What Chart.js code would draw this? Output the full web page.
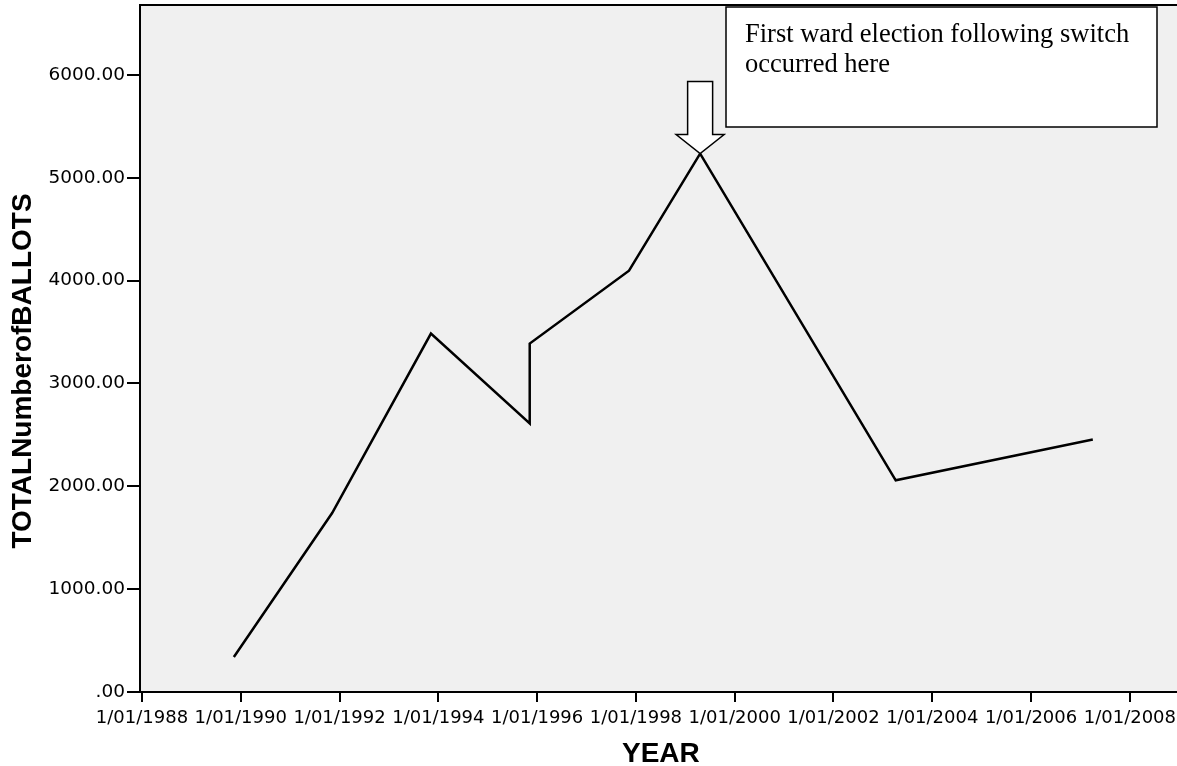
<!DOCTYPE html>
<html>
<head>
<meta charset="utf-8">
<script src="https://cdn.jsdelivr.net/npm/chart.js@4/dist/chart.umd.min.js"></script>
<style>
  html, body { margin: 0; padding: 0; background: #ffffff; overflow: hidden; }
  #wrap { width: 1177px; height: 766px; overflow: hidden; }
</style>
</head>
<body>
<div id="wrap"><canvas id="ballotsChart" width="1182" height="766"></canvas></div>
<script>
// election dates as decimal years
const electionYears = [1989.86, 1991.85, 1993.85, 1995.85, 1995.85, 1997.86, 1999.30, 2003.26, 2007.25];
const totalBallots = [340, 1740, 3485, 2612, 3388, 4097, 5235, 2058, 2456];

const xTickYears = [1988, 1990, 1992, 1994, 1996, 1998, 2000, 2002, 2004, 2006, 2008];
const yTickValues = [0, 1000, 2000, 3000, 4000, 5000, 6000];

const yTitle = 'TOTALNumberofBALLOTS';
const noteLines = ['First ward election following switch', 'occurred here'];

const points = electionYears.map((yr, i) => ({ x: yr, y: totalBallots[i] }));
const peakIndex = totalBallots.indexOf(Math.max(...totalBallots));

const plotFrame = {
    id: 'plotFrame',
    beforeDraw(chart) {
        const { ctx, chartArea } = chart;
        ctx.save();
        ctx.fillStyle = '#f0f0f0';
        ctx.fillRect(chartArea.left, chartArea.top, chartArea.right - chartArea.left, chartArea.bottom - chartArea.top);
        ctx.strokeStyle = '#000000';
        ctx.lineWidth = 2;
        ctx.beginPath();
        ctx.moveTo(chartArea.left, chartArea.top);
        ctx.lineTo(chartArea.right, chartArea.top);
        ctx.stroke();

        // y axis title, sits a bit below the middle of the plot like the original
        ctx.fillStyle = '#000000';
        ctx.font = 'bold 28px "Liberation Sans", Arial, sans-serif';
        ctx.textAlign = 'center';
        ctx.textBaseline = 'middle';
        ctx.translate(23, 371);
        ctx.rotate(-Math.PI / 2);
        ctx.fillText(yTitle, 0, 0);
        ctx.restore();
    }
};

const noteBox = {
    id: 'noteBox',
    afterDatasetsDraw(chart) {
        const { ctx, scales } = chart;
        const tx = scales.x.getPixelForValue(electionYears[peakIndex]);
        const ty = scales.y.getPixelForValue(totalBallots[peakIndex]);

        ctx.save();
        ctx.lineWidth = 1.5;
        ctx.strokeStyle = '#000000';
        ctx.fillStyle = '#ffffff';

        // down arrow pointing at the peak
        ctx.beginPath();
        ctx.moveTo(tx - 12.5, ty - 72);
        ctx.lineTo(tx + 12.5, ty - 72);
        ctx.lineTo(tx + 12.5, ty - 19);
        ctx.lineTo(tx + 24, ty - 19);
        ctx.lineTo(tx, ty);
        ctx.lineTo(tx - 24, ty - 19);
        ctx.lineTo(tx - 12.5, ty - 19);
        ctx.closePath();
        ctx.fill();
        ctx.stroke();

        // text box
        ctx.fillRect(726, 7, 431, 120);
        ctx.strokeRect(726, 7, 431, 120);
        ctx.fillStyle = '#000000';
        ctx.font = '26.5px "Liberation Serif", "Times New Roman", serif';
        ctx.textAlign = 'left';
        ctx.textBaseline = 'alphabetic';
        noteLines.forEach((line, i) => ctx.fillText(line, 745, 42 + i * 30));
        ctx.restore();
    }
};

const ctx = document.getElementById('ballotsChart').getContext('2d');
new Chart(ctx, {
    type: 'line',
    data: {
        datasets: [{
            data: points,
            borderColor: '#000000',
            borderWidth: 2.5,
            pointRadius: 0,
            pointHoverRadius: 0,
            tension: 0,
            fill: false
        }]
    },
    options: {
        responsive: false,
        animation: false,
        layout: { padding: { top: 5, left: 0, right: 0, bottom: 0 } },
        plugins: {
            legend: { display: false },
            tooltip: { enabled: false }
        },
        scales: {
            x: {
                type: 'linear',
                min: 1987.96,
                max: 2009.05,
                afterBuildTicks: (scale) => { scale.ticks = xTickYears.map(v => ({ value: v })); },
                afterFit: (scale) => { scale.height = 74; },
                border: { display: true, color: '#000000', width: 2 },
                grid: { drawOnChartArea: false, drawTicks: true, tickLength: 10, tickColor: '#000000', lineWidth: 2 },
                ticks: {
                    color: '#000000',
                    padding: 6,
                    maxRotation: 0,
                    autoSkip: false,
                    font: { family: '"DejaVu Sans", sans-serif', size: 18 },
                    callback: (v) => '1/01/' + v
                },
                title: {
                    display: true,
                    text: 'YEAR',
                    color: '#000000',
                    padding: { top: 0, bottom: -2 },
                    font: { family: '"Liberation Sans", Arial, sans-serif', size: 28, weight: 'bold', lineHeight: 1 }
                }
            },
            y: {
                min: 0,
                max: 6680,
                afterBuildTicks: (scale) => { scale.ticks = yTickValues.map(v => ({ value: v })); },
                afterFit: (scale) => {
                    scale.width = 140;
                    scale.paddingTop = 0;
                    scale.paddingBottom = 0;
                },
                border: { display: true, color: '#000000', width: 2 },
                grid: { drawOnChartArea: false, drawTicks: true, tickLength: 13, tickColor: '#000000', lineWidth: 2 },
                ticks: {
                    color: '#000000',
                    padding: 2,
                    font: { family: '"DejaVu Sans", sans-serif', size: 18.5 },
                    callback: (v) => v === 0 ? '.00' : v.toFixed(2)
                },
                title: { display: false }
            }
        }
    },
    plugins: [plotFrame, noteBox]
});
</script>
</body>
</html>
